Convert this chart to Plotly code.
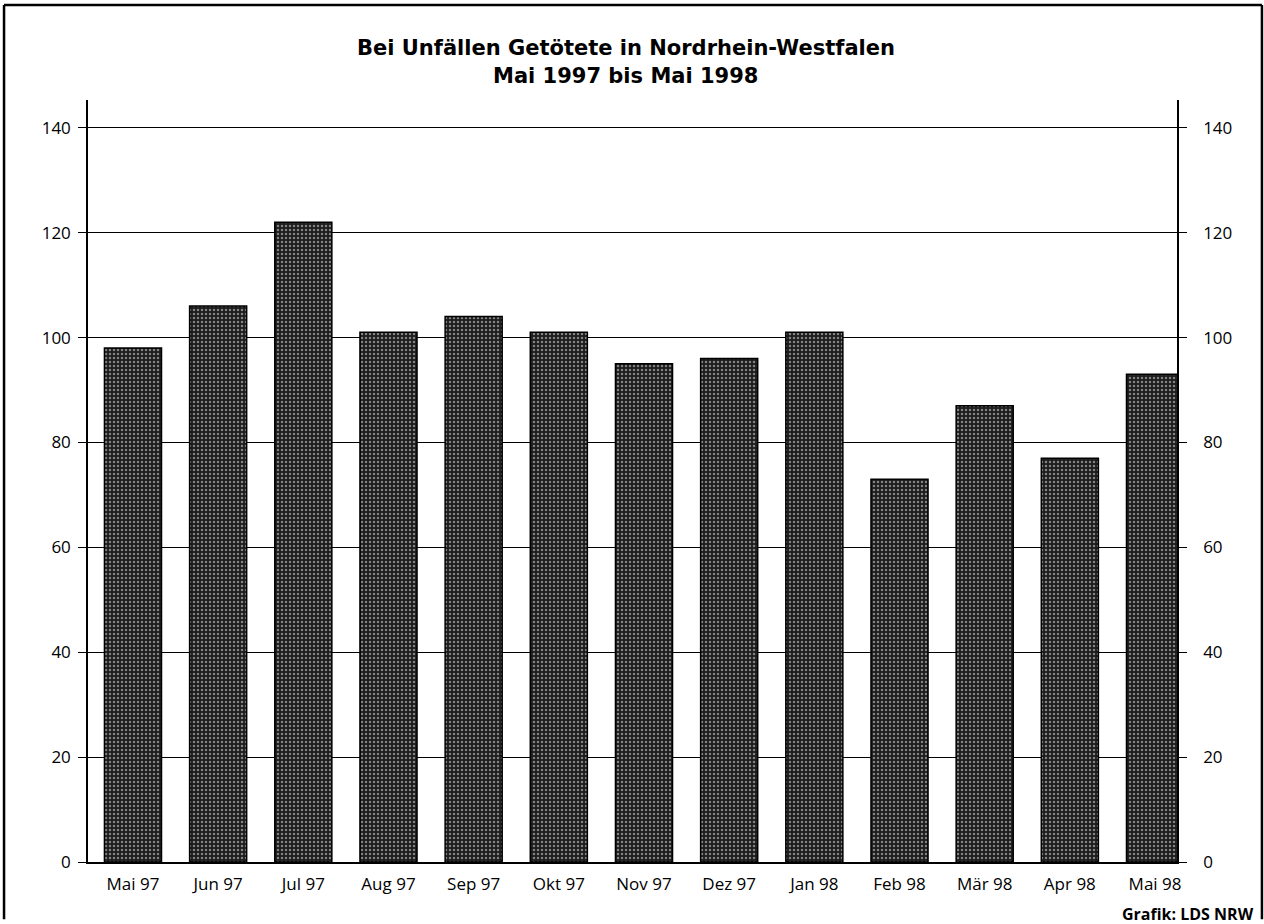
import plotly.graph_objects as go

months = ["Mai 97", "Jun 97", "Jul 97", "Aug 97", "Sep 97", "Okt 97", "Nov 97",
          "Dez 97", "Jan 98", "Feb 98", "Mär 98", "Apr 98", "Mai 98"]
killed = [98, 106, 122, 101, 104, 101, 95, 96, 101, 73, 87, 77, 93]
y_ticks = [0, 20, 40, 60, 80, 100, 120, 140]

title_line1 = "Bei Unfällen Getötete in Nordrhein-Westfalen"
title_line2 = "Mai 1997 bis Mai 1998"
source_text = "Grafik: LDS NRW"

FONT = "Open Sans"
TITLE_FONT = "DejaVu Sans"

fig = go.Figure()
fig.add_trace(go.Bar(
    x=months, y=killed, width=0.67,
    marker=dict(
        color="#1c1c1c",
        line=dict(color="black", width=1.5),
        pattern=dict(shape=".", fgcolor="#e8e8e8", bgcolor="#1c1c1c", size=4, solidity=0.3),
    ),
    showlegend=False, hoverinfo="x+y",
))
# invisible trace for right axis
fig.add_trace(go.Scatter(x=months, y=killed, yaxis="y2", mode="markers",
                         marker=dict(opacity=0), showlegend=False, hoverinfo="skip"))

yr = [0, 145.3]
axis_common = dict(
    range=yr, tickvals=y_ticks, ticks="outside", ticklen=8, tickwidth=1.3, tickcolor="black",
    showline=True, linecolor="black", linewidth=1.5,
    tickfont=dict(family=FONT, size=17, color="black"),
    zeroline=False, fixedrange=True,
)
fig.update_layout(
    width=1264, height=924,
    paper_bgcolor="white", plot_bgcolor="white",
    margin=dict(l=88, r=87, t=100, b=62),
    xaxis=dict(range=[-0.528, 12.258], showline=True, linecolor="black", linewidth=1.5,
               ticks="", showgrid=False, tickfont=dict(family=FONT, size=17, color="black"),
               ticklabelstandoff=6, fixedrange=True),
    yaxis=dict(**axis_common, side="left", showgrid=True, gridcolor="black", gridwidth=1.3,
               ticklabelstandoff=4),
    yaxis2=dict(**axis_common, side="right", overlaying="y", showgrid=False,
                ticklabelstandoff=13),
    bargap=0.3,
)
for txt, ypix in [(title_line1, 48), (title_line2, 76)]:
    fig.add_annotation(text=f"<b>{txt}</b>", xref="paper", yref="paper",
                       x=0.494, y=(862 - ypix) / 762, xanchor="center", yanchor="middle",
                       showarrow=False,
                       font=dict(family=TITLE_FONT, size=21, color="black"))
fig.add_annotation(text=f"<b>{source_text}</b>", xref="paper", yref="paper",
                   x=(1256 - 88) / 1089, y=(862 - 914) / 762, xanchor="right", yanchor="middle",
                   showarrow=False, font=dict(family=FONT, size=16, color="black"))

# figure frame
x0, x1 = -0.0771, 1.078
ytop, ybot = 1.1247, -0.075
for (a, b, c, d) in [(x0, ytop, x1, ytop), (x0, ytop, x0, ybot), (x1, ytop, x1, ybot)]:
    fig.add_shape(type="line", xref="paper", yref="paper", x0=a, y0=b, x1=c, y1=d,
                  line=dict(color="black", width=2.5))

fig.write_html("out.html", config={"displayModeBar": False},
               post_script="document.body.style.margin='0';")
